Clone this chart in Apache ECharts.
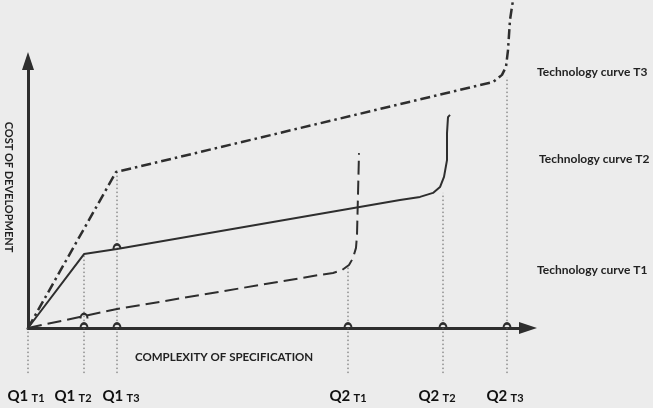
<!DOCTYPE html>
<html>
<head>
<meta charset="utf-8">
<script src="https://cdn.jsdelivr.net/npm/echarts@6/dist/echarts.min.js"></script>
<style>
  html, body { margin: 0; padding: 0; background: #ececec; }
  #chart { width: 653px; height: 408px; }
</style>
</head>
<body>
<div id="chart"></div>
<script>
// Q points along "complexity of specification"
const qMain = ['Q1', 'Q1', 'Q1', 'Q2', 'Q2', 'Q2'];
const qSub = ['T1', 'T2', 'T3', 'T1', 'T2', 'T3'];
const qValues = [0, 11.2, 17.8, 64, 83, 95.8];
// how high each dotted drop line reaches (and how far below the axis)
const dropTops = [0, 27.7, 58.4, 22.8, 50.6, 94];
const dropBottom = -16.9;

// technology curves [complexity, cost]
const curveT1 = [[0, 0], [17.8, 7.1], [58.4, 19.9], [61, 20.6], [62.8, 21.7], [64.2, 23.6], [65, 26.2],
  [65.6, 30], [65.8, 34.8], [66, 50], [66.2, 65.5]];
const curveT2 = [[0, 0], [11.2, 27.7], [17.8, 29.6], [74.4, 47.9], [78.4, 49.1], [81, 50.6], [82.4, 52.8],
  [83.2, 56.6], [83.8, 62.9], [83.8, 73], [84, 79], [84.4, 79.8]];
const curveT3 = [[0, 0], [17.6, 58.4], [90.4, 91], [93, 92.1], [94.8, 94.8], [95.6, 97.8], [96, 104.1],
  [96.4, 115.4], [97.1, 124]];

// little hop-over arcs where lines cross
const hops = [[11.2, 0], [17.8, 0], [64, 0], [83, 0], [95.8, 0], [11.2, 3.6], [17.8, 29.6]];

const ink = '#2e2e2e';
const font = 'Lato';
// sideways nudge (px) of each Q label, as in the drawing
const labelShift = [-2, -11, 4, 0, -6, -2];

let chart = echarts.init(document.getElementById('chart'));

let series = [];
qValues.forEach((x, i) => {
  series.push({
    type: 'line',
    data: [[x, dropBottom], [x, dropTops[i]]],
    symbol: 'none',
    clip: false,
    silent: true,
    lineStyle: { color: '#5e5e5e', width: 1, type: [1.5, 2.5] },
    z: 1
  });
});
series.push({
  name: 'T1', type: 'line', data: curveT1, symbol: 'none', clip: false,
  lineStyle: { color: ink, width: 2, type: [14, 6] }, z: 3
});
series.push({
  name: 'T2', type: 'line', data: curveT2, symbol: 'none', clip: false,
  lineStyle: { color: ink, width: 2 }, z: 3
});
series.push({
  name: 'T3', type: 'line', data: curveT3, symbol: 'none', clip: false,
  lineStyle: { color: ink, width: 2.5, type: [10, 4, 2.5, 4] }, z: 3
});
series.push({
  type: 'scatter', data: hops, clip: false, silent: true,
  symbol: 'path://M0,10 A10,10 0 0 1 20,10 L15.5,10 A5.5,5.5 0 0 0 4.5,10 Z',
  symbolSize: [9, 6], symbolOffset: [0, -3],
  itemStyle: { color: ink, opacity: 1 },
  z: 4
});

let rich = {
  q: { fontFamily: font, fontWeight: 'bold', fontSize: 15, color: '#111' },
  t: { fontFamily: font, fontWeight: 'bold', fontSize: 11, color: '#111', padding: [3, 0, 0, 0] }
};
labelShift.forEach((s, i) => {
  rich['s' + i] = { width: Math.abs(s) * 2, fontSize: 1 };
});

let option = {
  backgroundColor: '#ececec',
  animation: false,
  grid: { left: 28, right: 125, top: 61, bottom: 80 },
  xAxis: {
    type: 'value', min: 0, max: 100,
    splitLine: { show: false },
    axisTick: { show: false },
    axisLine: {
      lineStyle: { color: ink, width: 3 },
      symbol: ['none', 'triangle'], symbolSize: [12, 18]
    },
    axisLabel: {
      customValues: qValues,
      margin: 61,
      formatter: function (v) {
        let i = qValues.indexOf(v);
        if (i < 0) return '';
        let txt = '{q|' + qMain[i] + '} {t|' + qSub[i] + '}';
        let s = labelShift[i];
        if (s < 0) return txt + '{s' + i + '| }';
        if (s > 0) return '{s' + i + '| }' + txt;
        return txt;
      },
      rich: rich
    }
  },
  yAxis: {
    type: 'value', min: 0, max: 100,
    splitLine: { show: false },
    axisTick: { show: false },
    axisLabel: { show: false },
    axisLine: {
      show: true,
      lineStyle: { color: ink, width: 3 },
      symbol: ['none', 'triangle'], symbolSize: [12, 18]
    }
  },
  graphic: [
    { type: 'text', x: 9, y: 187, rotation: -Math.PI / 2,
      style: { text: 'COST OF DEVELOPMENT', align: 'center', verticalAlign: 'middle',
        font: 'bold 11px ' + font, fill: '#222' } },
    { type: 'text', left: 135, top: 351,
      style: { text: 'COMPLEXITY OF SPECIFICATION', font: 'bold 11.5px ' + font, fill: '#222' } },
    { type: 'text', left: 537, top: 66,
      style: { text: 'Technology curve T3', font: 'bold 12px ' + font, fill: '#222' } },
    { type: 'text', left: 539, top: 153,
      style: { text: 'Technology curve T2', font: 'bold 12px ' + font, fill: '#222' } },
    { type: 'text', left: 537, top: 264,
      style: { text: 'Technology curve T1', font: 'bold 12px ' + font, fill: '#222' } }
  ],
  series: series
};

chart.setOption(option);
window.onresize = chart.resize;
</script>
</body>
</html>
